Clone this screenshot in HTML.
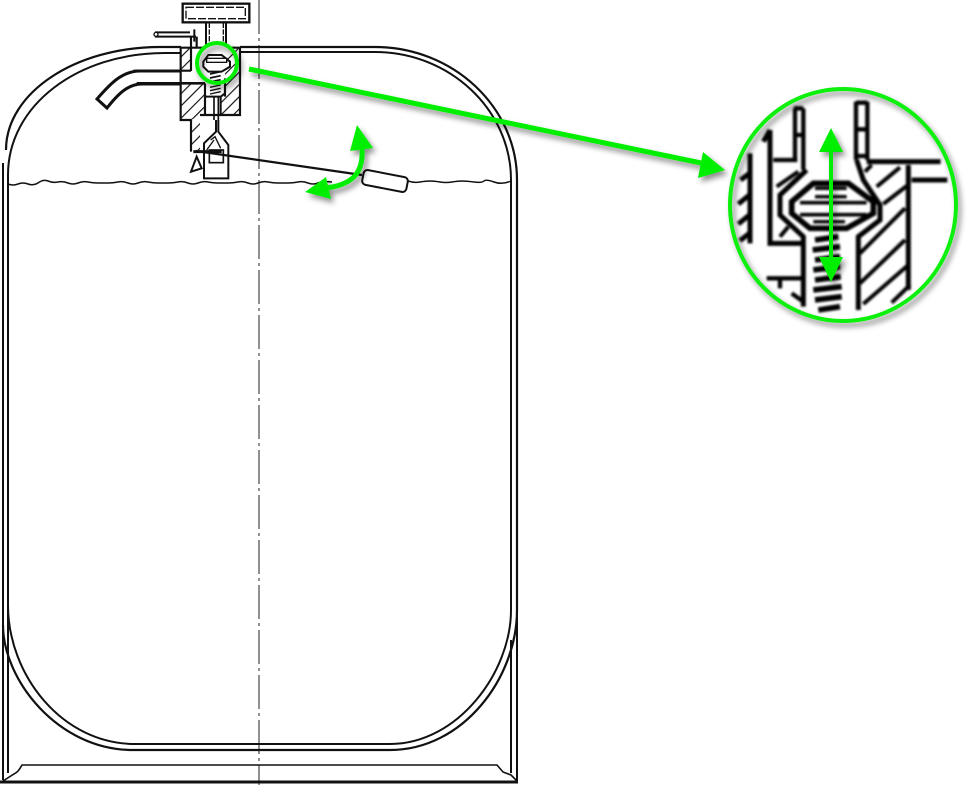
<!DOCTYPE html>
<html><head><meta charset="utf-8"><style>html,body{margin:0;padding:0;background:#fff}svg{display:block}</style></head>
<body>
<svg width="969" height="785" viewBox="0 0 969 785" xmlns="http://www.w3.org/2000/svg">
<defs>
<filter id="sh" x="-20%" y="-20%" width="150%" height="150%"><feDropShadow dx="3" dy="4" stdDeviation="3" flood-color="#000" flood-opacity=".45"/></filter>
<filter id="bl" x="-5%" y="-5%" width="110%" height="110%"><feGaussianBlur stdDeviation="3.500"/></filter>
<clipPath id="big"><ellipse cx="369" cy="375" rx="335" ry="345"/></clipPath>
<pattern id="hp" width="26" height="26" patternUnits="userSpaceOnUse" patternTransform="rotate(-45)"><rect width="26" height="26" fill="#fff"/><rect width="26" height="3.500" fill="#111"/></pattern>
</defs>
<rect width="969" height="785" fill="#fff"/>

<!-- centre line -->
<path d="M259,0V785" stroke="#222" stroke-width="1" stroke-dasharray="34 4 3 4" fill="none"/>

<!-- tank -->
<g fill="none" stroke="#111">
<path d="M6,150C6,93 75,47 160,47H181M240,47H375C453,47 517,107 517,180V610C517,678 463,750 390,750H133C58,750 3,680 3,625" stroke-width="2.200"/>
<path d="M8,175C8,105 78,53 165,53H181M240,52H375C450,52 511,110 511,180V610C511,672 458,744 390,744H135C62,744 8,675 8,605V175" stroke-width="2"/>
<!-- skirt -->
<path d="M3,163V780" stroke-width="2"/>
<path d="M8,600V773M511,640V773M517,600V782" stroke-width="2"/>
<path d="M3,781L14,774C18,772 19,770 22,765H497L503,772L511,775L517,781" stroke-width="1.600"/>
<path d="M0,782H518" stroke-width="3"/>
<!-- water -->
<path d="M8,184q5,2 10,0t10,0t10,-1q5,-4 10,-2t10,1t10,1t10,0t10,-1t10,1t10,0t10,-1t10,1t10,0t10,-1t10,1t10,0t10,-1t10,1t10,0t10,-1t10,1t10,0t10,-1t10,1t10,0t10,-1t10,1t10,0t10,-1t10,1t10,0t14,-1M408,181q6,2 12,1t10,-1t10,1t12,0t10,-1t12,1t10,-1t10,1t17,-1" stroke-width="1.500"/>
<!-- float -->
<rect x="362.500" y="173.500" width="45" height="15" rx="4" transform="rotate(11 385 181)" stroke-width="2" fill="#fff"/>
</g>

<!-- valve, in zoom coordinates -->
<g transform="translate(90,0) scale(.33333)" fill="none" stroke="#111" stroke-width="6.500">
<rect x="272" y="143" width="31" height="70" fill="url(#hp)" stroke="none"/>
<path d="M272,250H345V345H330L303,360H272Z" fill="url(#hp)" stroke="none"/>
<path d="M405,175L430,143H450V345H392V290H405Z" fill="url(#hp)" stroke="none"/>
<rect x="303" y="360" width="27" height="95" fill="url(#hp)" stroke="none"/>
<rect x="278" y="11" width="200" height="56" stroke-width="7"/>
<rect x="288" y="22" width="178" height="34" stroke-width="4" stroke-dasharray="24 6"/>
<path d="M348,68V140M408,68V135" stroke-width="6"/>
<path d="M358,68V135M400,68V135" stroke-width="4" stroke-dasharray="16 4"/>
<path d="M272,143V360H303V455M272,143H345M450,143V345H330M420,143H450" />
<path d="M303,110V213M320,110V143M130,212H303" stroke-width="6.500"/>
<path d="M140,250H345" stroke-width="8"/>
<path d="M195,97H300M195,110H318" stroke-width="6"/>
<circle cx="198" cy="103" r="6" stroke-width="4" fill="#fff"/>
<path d="M313,88V125" stroke-width="6"/>
<path d="M345,250V345M405,235V290" stroke-width="6.500"/>
<path d="M345,290H392V345M392,290L405,280" stroke-width="6"/>
<path d="M372,290V360M385,290V360" stroke-width="5"/>
<path d="M360,262L392,255M360,272L392,265M360,282L392,275" stroke-width="4"/>
<path d="M360,210L392,203M360,222L392,215M360,234L392,227M360,246L392,239" stroke-width="5"/>
<path d="M340,185L355,165H395L420,185V200L395,215H355L340,200Z" stroke-width="6" fill="#fff"/>
<rect x="350" y="175" width="60" height="12" stroke-width="4" fill="#fff"/>
<path d="M378,360V395L342,430V535H415V435L385,395V360" stroke-width="6" fill="#fff"/>
<rect x="358" y="450" width="42" height="38" stroke-width="5"/>
<path d="M362,420L375,410L392,445M350,450L372,420" stroke-width="4"/>
<path d="M310,455H395" stroke-width="9"/>
<path d="M320,470L303,515L335,505Z" stroke-width="6"/>
</g>

<!-- float rod, above the fork -->
<path d="M196,151L362,175" stroke="#111" stroke-width="2.200" fill="none"/>

<!-- pipe -->
<g fill="none" stroke="#111">
<path d="M181,71H140C122,71 110,84 97,99L107,108C118,94 128,84 142,84H181" stroke-width="3" stroke-linejoin="miter"/>
</g>

<!-- magnified view -->
<g transform="translate(720,80) scale(.33333)">
<g clip-path="url(#big)"><g filter="url(#bl)" fill="none" stroke="#000" stroke-width="15" stroke-linecap="butt">
<path d="M90,220V490M55,372L88,345M55,432L88,405M60,482L88,460M62,300L88,280"/>
<path d="M150,150V490H250M130,185L150,150"/>
<path d="M160,240H232M225,85V240M250,85V270M222,85H250M222,165H250" stroke-width="13"/>
<path d="M408,65V240M442,65V240M408,68H442M408,148H442M408,228H442" stroke-width="13"/>
<path d="M440,245H662M575,300H682M565,255V630" />
<path d="M260,270L180,345V405L250,470V680M410,240L430,300L480,375V420L415,470V690"/>
<path d="M280,310H385L460,365V400L380,445H270L215,400V365Z" stroke-width="17"/>
<path d="M240,368H440M240,404H440" stroke-width="11"/>
<path d="M285,325H380M285,350H380M280,425H375" stroke-width="10"/>
<path d="M285,480L355,470M278,510L360,500M285,540L360,530M280,570L360,560M285,600L362,590M280,630L365,620M285,660L365,650M295,690L360,680" stroke-width="17"/>
<path d="M420,520L555,385M420,610L555,480M430,672L565,555M470,320L540,262M490,372L560,318M170,320L235,275M180,470L205,440M515,668L570,615M435,275L455,255" stroke-width="12"/>
<path d="M140,595H250M180,600V625M215,640L250,665" stroke-width="13"/>
</g></g>
</g>

<!-- green overlay -->
<g filter="url(#sh)">
<ellipse cx="843" cy="205" rx="113" ry="116" fill="none" stroke="#10f010" stroke-width="4"/>
<circle cx="217" cy="63" r="20" fill="none" stroke="#00ee00" stroke-width="4"/>
<path d="M249,69L706,164" stroke="#00ee00" stroke-width="5" fill="none"/>
<path d="M725,170L698,178L703,152Z" fill="#00ee00"/>
<path d="M831,145V265" stroke="#00ee00" stroke-width="4" fill="none"/>
<path d="M831,128L843,152H819Z" fill="#00ee00"/>
<path d="M831,282L819,257H843Z" fill="#00ee00"/>
<path d="M362,148C364,175 350,185 326,188" stroke="#00ee00" stroke-width="5" fill="none"/>
<path d="M357,125L373,148L350,151Z" fill="#00ee00"/>
<path d="M305,192L326,177L331,199Z" fill="#00ee00"/>
</g>
</svg>
</body></html>
